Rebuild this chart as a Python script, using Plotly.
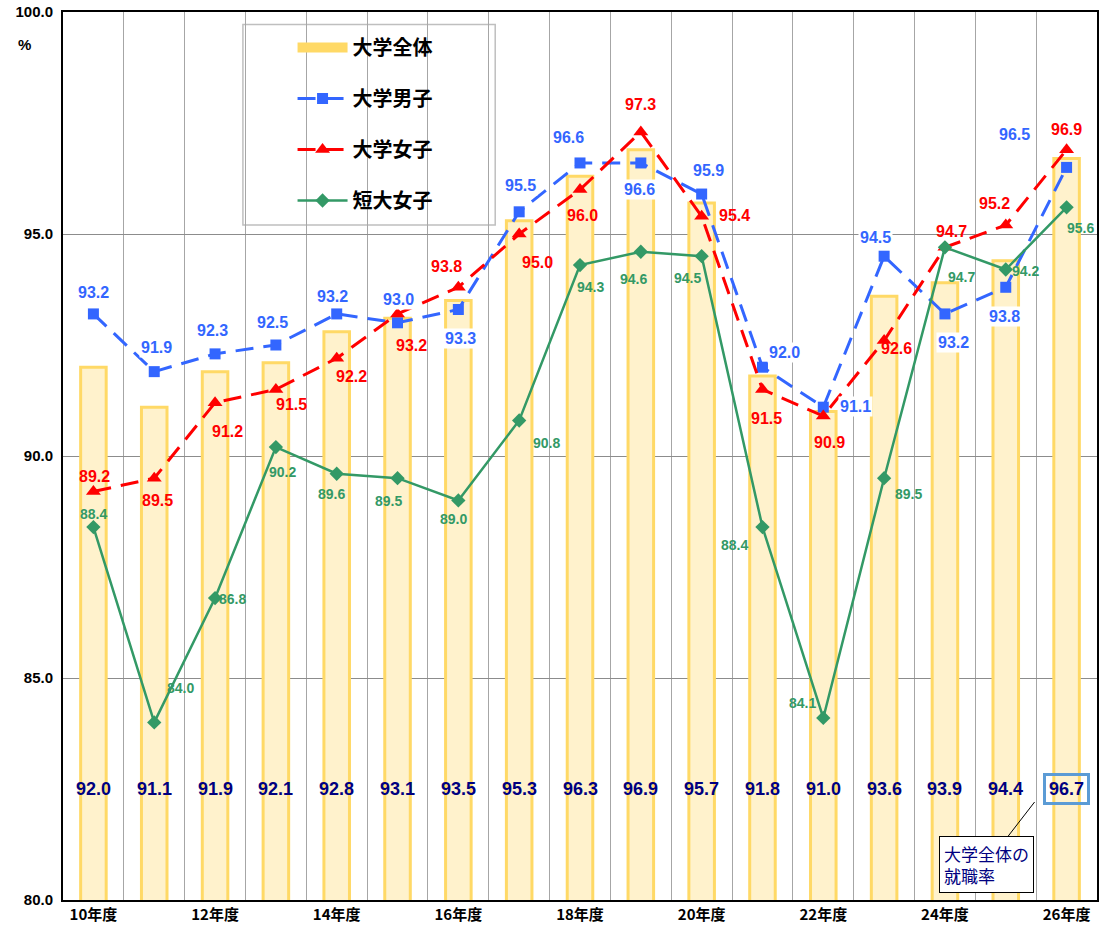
import plotly.graph_objects as go

years = ["10年度", "11年度", "12年度", "13年度", "14年度", "15年度", "16年度", "17年度", "18年度",
         "19年度", "20年度", "21年度", "22年度", "23年度", "24年度", "25年度", "26年度"]
univ_all = [92.0, 91.1, 91.9, 92.1, 92.8, 93.1, 93.5, 95.3, 96.3, 96.9, 95.7, 91.8, 91.0, 93.6, 93.9, 94.4, 96.7]
univ_male = [93.2, 91.9, 92.3, 92.5, 93.2, 93.0, 93.3, 95.5, 96.6, 96.6, 95.9, 92.0, 91.1, 94.5, 93.2, 93.8, 96.5]
univ_female = [89.2, 89.5, 91.2, 91.5, 92.2, 93.2, 93.8, 95.0, 96.0, 97.3, 95.4, 91.5, 90.9, 92.6, 94.7, 95.2, 96.9]
jc_female = [88.4, 84.0, 86.8, 90.2, 89.6, 89.5, 89.0, 90.8, 94.3, 94.6, 94.5, 88.4, 84.1, 89.5, 94.7, 94.2, 95.6]

x = list(range(len(years)))
tick_idx = [i for i in x if i % 2 == 0]
tick_txt = [years[i] for i in tick_idx]

BLUE = "#3366FF"
RED = "#FF0000"
GREEN = "#339966"
NAVY = "#000080"
FONT = "Liberation Sans, Arial, Noto Sans CJK JP, sans-serif"
JFONT = "Noto Sans CJK JP, sans-serif"

# label offsets (pixels) relative to the point: (dx, dy) ; dy positive = up
male_off = [(0, 21), (2, 24), (-3, 23), (-3, 23), (-4, 17), (1, 23), (2, -29), (1, 26), (-12, 25), (-1, -27),
            (7, 24), (22, 15), (32, 1), (-9, 19), (9, -29), (-1, -29), (-52, 33)]
female_off = [(1, 15), (3, -22), (12, -29), (16, -15), (15, -18), (14, -32), (-12, 21), (18, -28), (2, -26),
              (0, 27), (33, 1), (4, -29), (6, -26), (12, -8), (7, 16), (-11, 22), (0, 20)]
green_off = [(0, 13), (26, 34), (17, -1), (7, -25), (-5, -20), (-9, -23), (-5, -19), (27, -23), (10, -22),
             (-7, -27), (-14, -22), (-28, -18), (-21, 15), (24, -16), (17, -30), (20, -1), (14, -21)]

fig = go.Figure()

fig.add_trace(go.Bar(
    x=x, y=univ_all, base=0, name="大学全体", width=0.42,
    marker=dict(color="#FFF2CC", line=dict(color="#FFD966", width=3)),
    showlegend=False,
))
# legend-only entry for the bars (wide rectangle swatch)
fig.add_trace(go.Scatter(
    x=[None], y=[None], name="大学全体", mode="lines",
    line=dict(color="#FFD966", width=11), legendgroup="a",
))
fig.add_trace(go.Scatter(
    x=x, y=univ_male, name="大学男子", mode="lines+markers",
    line=dict(color=BLUE, width=3, dash="18px,10px"),
    marker=dict(symbol="square", size=11, color=BLUE), legendgroup="b",
))
fig.add_trace(go.Scatter(
    x=x, y=univ_female, name="大学女子", mode="lines+markers",
    line=dict(color=RED, width=3, dash="18px,10px"),
    marker=dict(symbol="triangle-up", size=13, color=RED), legendgroup="c",
))
fig.add_trace(go.Scatter(
    x=x, y=jc_female, name="短大女子", mode="lines+markers",
    line=dict(color=GREEN, width=2.5),
    marker=dict(symbol="diamond", size=11, color=GREEN), legendgroup="d",
))

annotations = []


def add_labels(vals, offs, color, size, bg=None):
    for i, (v, (dx, dy)) in enumerate(zip(vals, offs)):
        annotations.append(dict(
            x=i, y=v, text=f"<b>{v:.1f}</b>", showarrow=False,
            xshift=dx, yshift=dy, font=dict(family=FONT, size=size, color=color),
            bgcolor=bg, borderpad=1,
        ))


add_labels(univ_male, male_off, BLUE, 16, "white")
add_labels(univ_female, female_off, RED, 16)
add_labels(jc_female, green_off, GREEN, 14)

# bar value labels
for i, v in enumerate(univ_all):
    last = i == len(univ_all) - 1
    annotations.append(dict(
        x=i, y=82.5, text=f"<b>{v:.1f}</b>", showarrow=False,
        font=dict(family=FONT, size=18, color=NAVY),
        bordercolor="#5B9BD5" if last else None, borderwidth=3 if last else 0,
        borderpad=3, bgcolor=None,
    ))

# callout
annotations.append(dict(
    x=len(univ_all) - 1, y=82.5, xshift=-32, yshift=-13, ax=-48, ay=62,
    text="大学全体の<br>就職率", align="left", showarrow=True, arrowhead=0,
    arrowcolor="black", arrowwidth=1,
    font=dict(family=JFONT, size=17, color=NAVY),
    bgcolor="white", bordercolor="black", borderwidth=1, borderpad=4,
))

# "%" unit label
annotations.append(dict(
    xref="paper", yref="paper", x=0, y=1, xanchor="right", yanchor="top",
    xshift=-30, yshift=-22, text="<b>%</b>", showarrow=False,
    font=dict(family=FONT, size=15, color="black"),
))

fig.update_layout(
    width=1104, height=936,
    margin=dict(l=63, r=7, t=12, b=36, autoexpand=False),
    paper_bgcolor="white", plot_bgcolor="white",
    barmode="overlay",
    font=dict(family=FONT, color="black"),
    annotations=annotations,
    showlegend=True,
    legend=dict(
        x=0.222, y=0.982, xanchor="left", yanchor="top",
        bgcolor="rgba(0,0,0,0)", borderwidth=0,
        font=dict(family=JFONT, size=20, color="black", weight="bold"),
        itemwidth=50, tracegroupgap=22, traceorder="grouped",
    ),
    shapes=[dict(
        type="rect", xref="paper", yref="paper", x0=0.174, x1=0.418, y0=0.760, y1=0.986,
        line=dict(color="#BFBFBF", width=1.5), fillcolor="white", layer="below",
    )],
)

fig.update_xaxes(
    range=[-0.5, len(years) - 0.5], tickmode="array", tickvals=tick_idx,
    ticktext=[f"<b>{t}</b>" for t in tick_txt],
    tickfont=dict(family=JFONT, size=15, color="black"),
    showgrid=False, showline=True, linecolor="black", linewidth=2, mirror=True,
    ticks="", zeroline=False, automargin=False,
    minor=dict(tick0=0.5, dtick=1, showgrid=True, gridcolor="#A6A6A6", gridwidth=1),
)
fig.update_yaxes(
    range=[80, 100], tickmode="array", tickvals=[80, 85, 90, 95, 100],
    ticktext=["<b>80.0</b>", "<b>85.0</b>", "<b>90.0</b>", "<b>95.0</b>", "<b>100.0</b>"],
    tickfont=dict(family=FONT, size=15, color="black"),
    showgrid=True, gridcolor="#8C8C8C", gridwidth=1,
    showline=True, linecolor="black", linewidth=2, mirror=True,
    ticks="", zeroline=False, ticklabelstandoff=5, automargin=False,
    ticklabeloverflow="allow",
)

# remove the default page margin so the figure sits at the window's top-left corner
fig.write_html("out.html", config={"displayModeBar": False},
               post_script="document.body.style.margin='0';")
